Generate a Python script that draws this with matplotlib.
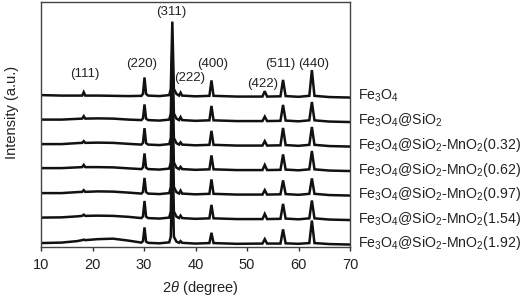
import matplotlib
matplotlib.use("Agg")
import matplotlib.pyplot as plt

plt.rcParams['font.family'] = ['Liberation Sans', 'DejaVu Sans']
plt.rcParams['mathtext.fontset'] = 'custom'
plt.rcParams['mathtext.rm'] = 'Liberation Sans'
plt.rcParams['mathtext.it'] = 'Liberation Sans:italic'

# key 2theta points
two_theta = [10, 14, 17, 18.0, 18.3, 18.6, 21, 24, 27, 29.5, 29.8, 30.1, 30.4, 30.8,
             33, 34.9, 35.2, 35.5, 35.8, 36.3, 36.8, 37.1, 37.4, 40, 42.7, 43.1, 43.5,
             48, 53.0, 53.45, 53.9, 56.5, 57.0, 57.5, 60, 62.1, 62.6, 63.1, 66, 70]

# intensities (a.u., one unit = spacing between stacked patterns), top to bottom
fe3o4 = [0.10, 0.08, 0.08, 0.08, 0.22, 0.08, 0.08, 0.07, 0.06, 0.07, 0.15, 0.82, 0.15, 0.08,
         0.06, 0.10, 0.35, 3.10, 0.35, 0.15, 0.08, 0.20, 0.08, 0.05, 0.07, 0.70, 0.07,
         0.04, 0.04, 0.26, 0.04, 0.05, 0.72, 0.06, 0.03, 0.07, 1.12, 0.07, 0.02, 0.00]
fe3o4_sio2 = [0.10, 0.10, 0.13, 0.14, 0.24, 0.14, 0.15, 0.14, 0.10, 0.08, 0.15, 0.72, 0.14, 0.08,
              0.06, 0.10, 0.35, 3.00, 0.35, 0.14, 0.08, 0.20, 0.08, 0.05, 0.07, 0.66, 0.07,
              0.04, 0.04, 0.22, 0.04, 0.05, 0.70, 0.06, 0.03, 0.07, 0.82, 0.07, 0.02, 0.00]
mn_032 = [0.10, 0.10, 0.14, 0.15, 0.22, 0.15, 0.16, 0.15, 0.11, 0.08, 0.15, 0.75, 0.14, 0.08,
          0.06, 0.10, 0.35, 3.00, 0.35, 0.14, 0.08, 0.17, 0.08, 0.05, 0.07, 0.64, 0.07,
          0.04, 0.04, 0.22, 0.04, 0.05, 0.76, 0.06, 0.03, 0.07, 0.80, 0.07, 0.02, 0.00]
mn_062 = [0.12, 0.12, 0.15, 0.16, 0.25, 0.16, 0.16, 0.15, 0.11, 0.08, 0.15, 0.72, 0.14, 0.08,
          0.06, 0.10, 0.35, 3.00, 0.35, 0.14, 0.08, 0.17, 0.08, 0.05, 0.07, 0.64, 0.07,
          0.04, 0.04, 0.25, 0.04, 0.05, 0.68, 0.06, 0.03, 0.07, 0.82, 0.07, 0.02, 0.00]
mn_097 = [0.10, 0.10, 0.14, 0.15, 0.22, 0.15, 0.17, 0.16, 0.12, 0.08, 0.15, 0.72, 0.14, 0.08,
          0.06, 0.10, 0.35, 3.00, 0.35, 0.14, 0.08, 0.20, 0.08, 0.05, 0.07, 0.66, 0.07,
          0.04, 0.04, 0.22, 0.04, 0.05, 0.62, 0.06, 0.03, 0.07, 0.70, 0.07, 0.02, 0.00]
mn_154 = [0.10, 0.11, 0.15, 0.17, 0.22, 0.17, 0.18, 0.17, 0.13, 0.08, 0.15, 0.78, 0.14, 0.08,
          0.06, 0.10, 0.35, 3.00, 0.35, 0.14, 0.08, 0.18, 0.08, 0.05, 0.07, 0.62, 0.07,
          0.04, 0.04, 0.25, 0.04, 0.05, 0.66, 0.06, 0.03, 0.07, 0.80, 0.07, 0.02, 0.00]
mn_192 = [0.06, 0.08, 0.14, 0.18, 0.20, 0.18, 0.22, 0.24, 0.16, 0.08, 0.14, 0.70, 0.12, 0.07,
          0.05, 0.09, 0.32, 3.00, 0.32, 0.12, 0.07, 0.14, 0.07, 0.04, 0.06, 0.48, 0.06,
          0.03, 0.04, 0.22, 0.04, 0.04, 0.62, 0.05, 0.03, 0.06, 0.98, 0.06, 0.02, 0.00]

series = [fe3o4, fe3o4_sio2, mn_032, mn_062, mn_097, mn_154, mn_192]
labels = [r'Fe$_3$O$_4$', r'Fe$_3$O$_4$@SiO$_2$',
          r'Fe$_3$O$_4$@SiO$_2$-MnO$_2$(0.32)', r'Fe$_3$O$_4$@SiO$_2$-MnO$_2$(0.62)',
          r'Fe$_3$O$_4$@SiO$_2$-MnO$_2$(0.97)', r'Fe$_3$O$_4$@SiO$_2$-MnO$_2$(1.54)',
          r'Fe$_3$O$_4$@SiO$_2$-MnO$_2$(1.92)']

# reflection labels
hkl = ['(111)', '(220)', '(311)', '(222)', '(400)', '(422)', '(511)', '(440)']
hkl_x = [18.5, 29.6, 35.2, 38.8, 43.3, 53.1, 56.4, 62.9]
hkl_y = [6.97, 7.38, 9.50, 6.80, 7.38, 6.55, 7.38, 7.38]

fig = plt.figure(figsize=(5.26, 2.97), dpi=100)
ax = fig.add_axes([41/526, 1 - 247/297, 309/526, 245/297])

n = len(series)
for i, (ys, lab) in enumerate(zip(series, labels)):
    off = n - 1 - i
    ax.plot(two_theta, [v + off for v in ys], color='#111111', lw=1.8,
            solid_joinstyle='miter')
    ax.annotate(lab, xy=(70, off + 0.06), xytext=(6, 0), textcoords='offset points',
                va='center', ha='left', fontsize=10.2, color='#222222',
                annotation_clip=False)

for t, x, y in zip(hkl, hkl_x, hkl_y):
    ax.text(x, y, t, ha='center', va='center', fontsize=9.5, color='#222222')

ax.set_xlim(10, 70)
ax.set_ylim(-0.1, 9.9)
ax.set_xticks([10, 20, 30, 40, 50, 60, 70])
ax.set_yticks([])
ax.tick_params(axis='x', direction='out', length=3, width=1, pad=5,
               labelsize=10.5, colors='#333333', labelcolor='#222222')
for s in ax.spines.values():
    s.set_color('#444444')
    s.set_linewidth(1)

fig.text(200/526, 1 - 288/297, r'2$\it{\theta}$ (degree)', ha='center', va='center',
         fontsize=10.5, color='#222222')
fig.text(12/526, 1 - 112/297, 'Intensity (a.u.)', rotation=90, ha='center', va='center',
         fontsize=10.5, color='#222222')

fig.savefig('out.png', dpi=100)
